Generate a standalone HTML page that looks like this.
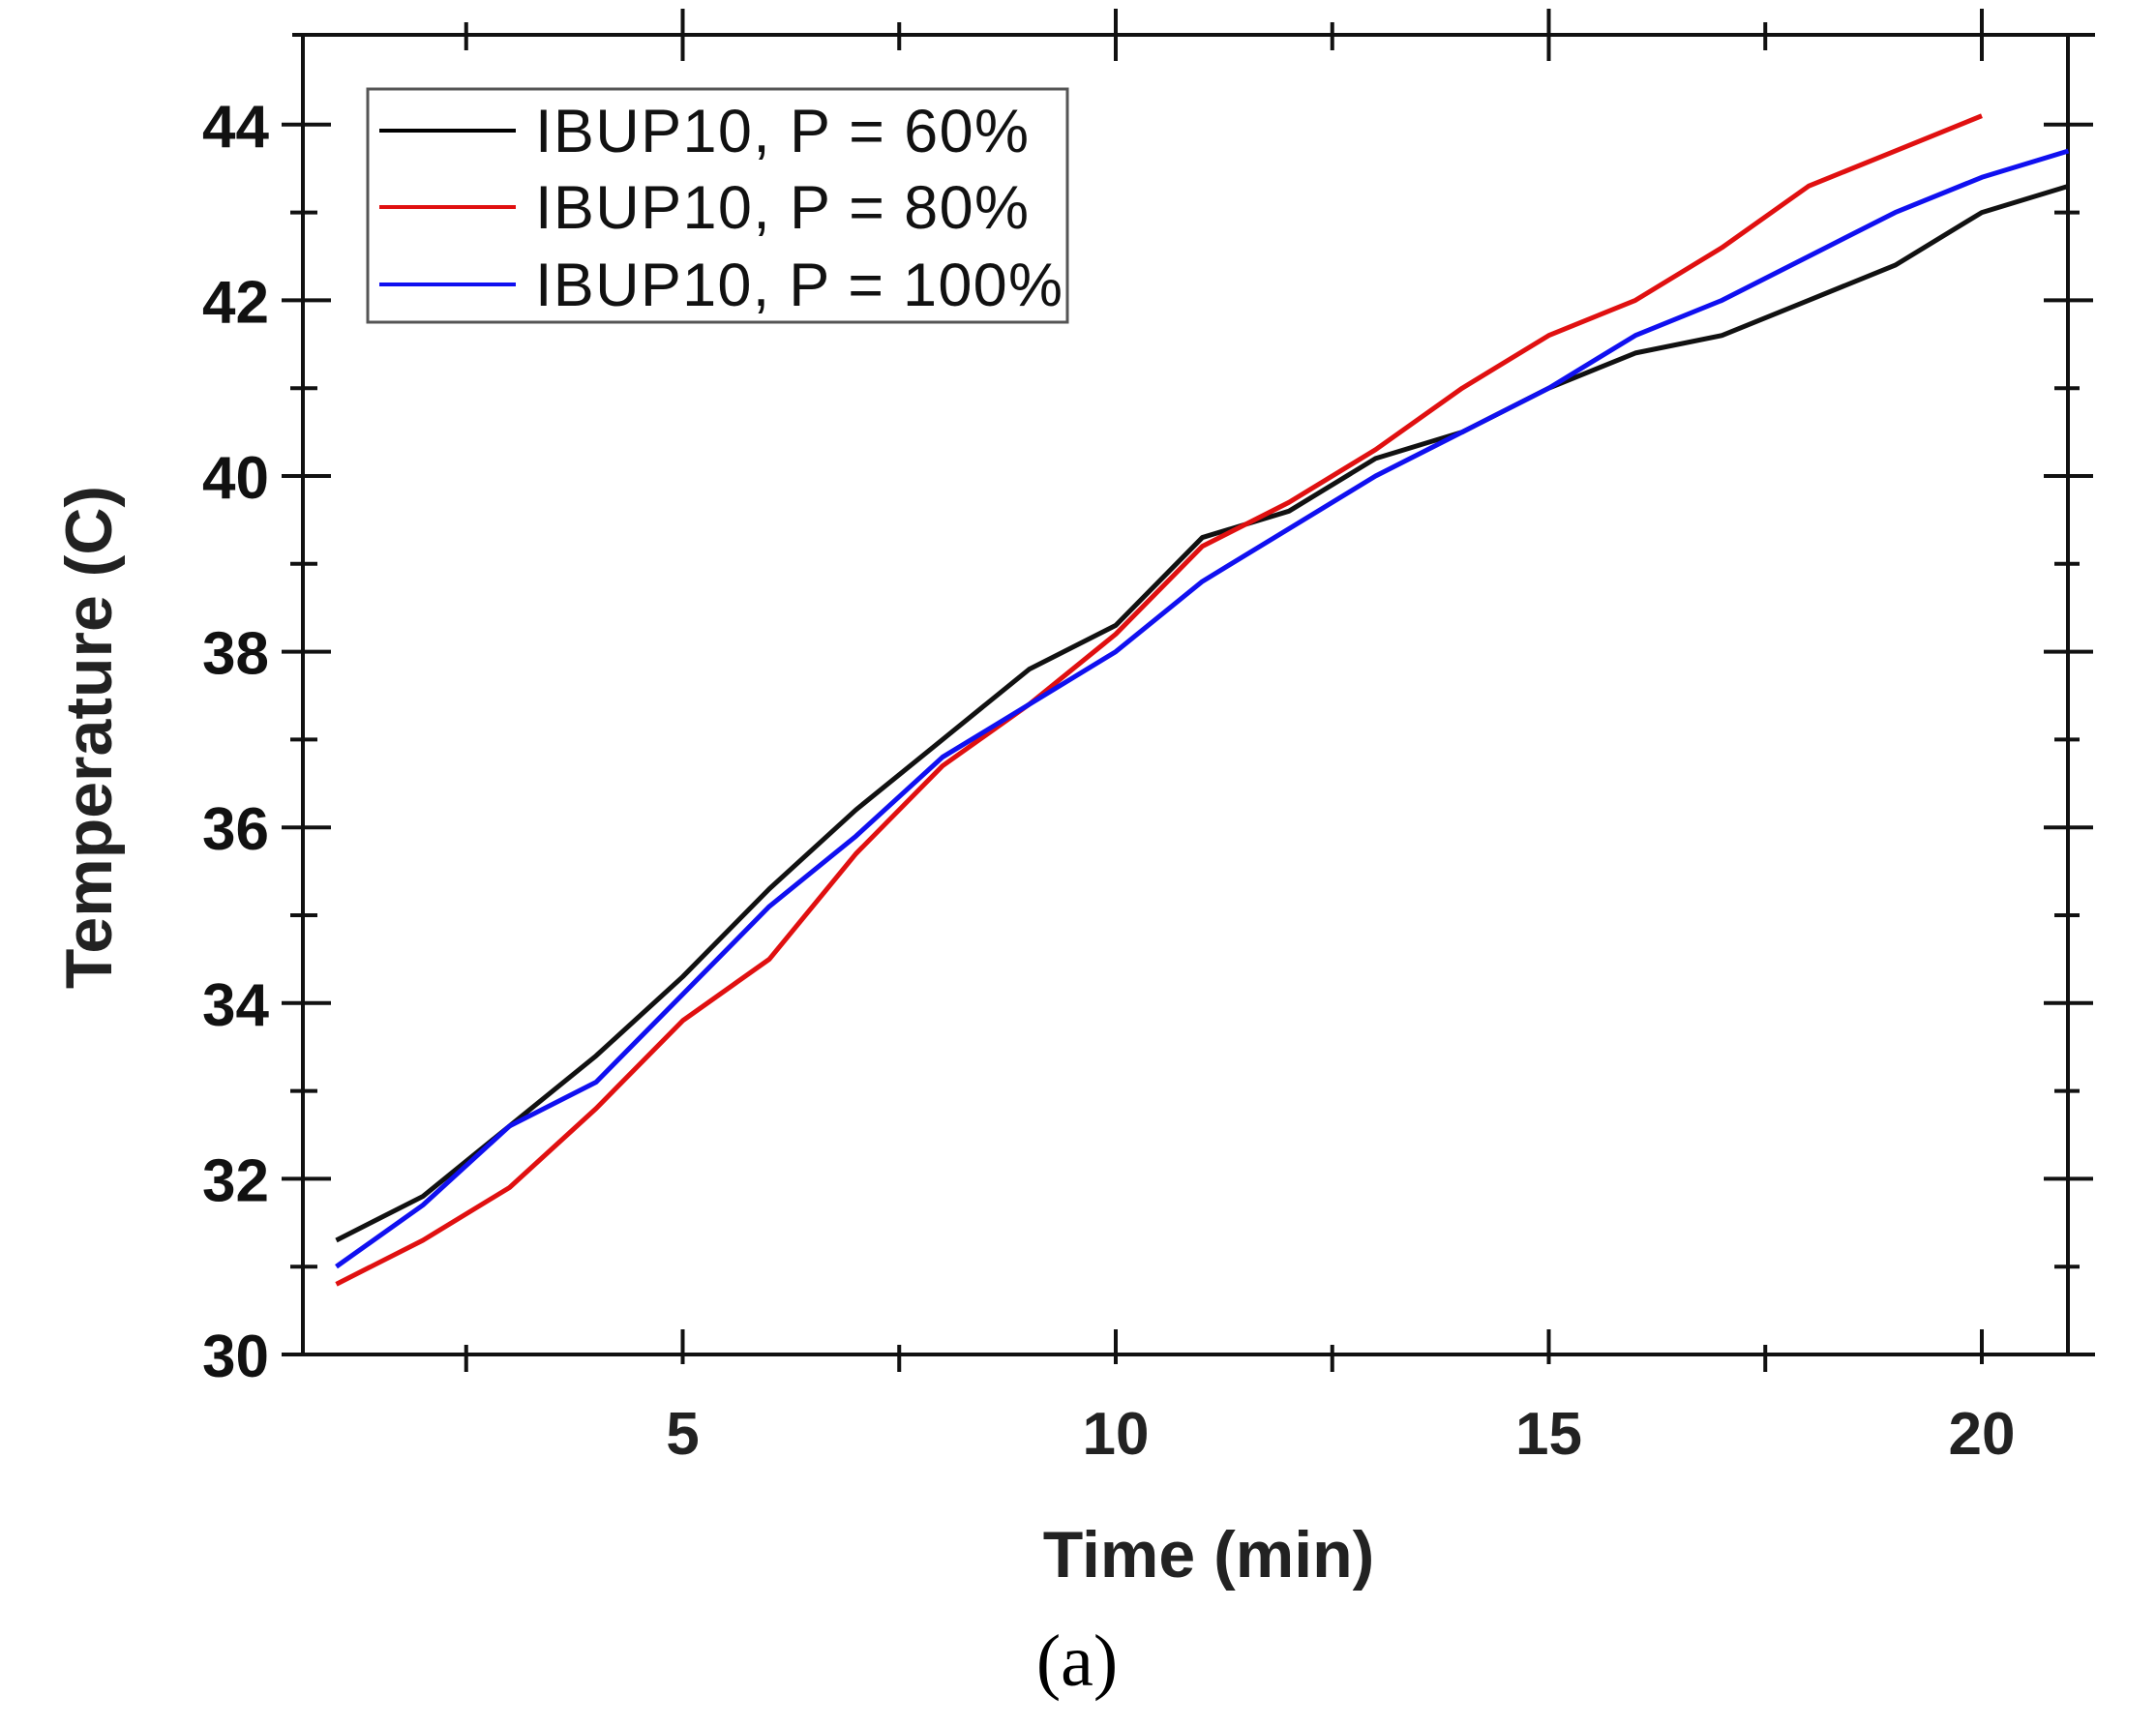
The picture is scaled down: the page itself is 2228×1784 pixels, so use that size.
<!DOCTYPE html>
<html><head><meta charset="utf-8"><style>
html,body{margin:0;padding:0;background:#fff}
svg{display:block}
text{font-family:"Liberation Sans",sans-serif}
</style></head><body>
<svg id="chart" width="2228" height="1784" viewBox="0 0 2228 1784" xmlns="http://www.w3.org/2000/svg">
<g id="axes"></g>
<g id="series"></g>
<g id="legend">
  <rect x="380" y="92" width="723" height="241" fill="#fff" stroke="#555" stroke-width="3"/>
  <line x1="392" y1="135" x2="533" y2="135" stroke="#000" stroke-width="4"/>
  <text x="553" y="157" font-size="63" fill="#111" textLength="510">IBUP10, P = 60%</text>
  <line x1="392" y1="214" x2="533" y2="214" stroke="#e01010" stroke-width="4"/>
  <text x="553" y="236" font-size="63" fill="#111" textLength="510">IBUP10, P = 80%</text>
  <line x1="392" y1="294" x2="533" y2="294" stroke="#1010f0" stroke-width="4"/>
  <text x="553" y="316" font-size="63" fill="#111" textLength="545">IBUP10, P = 100%</text>
</g>
<text x="1249" y="1630" font-size="68" font-weight="bold" text-anchor="middle" fill="#222">Time (min)</text>
<text transform="translate(115,762) rotate(-90)" font-size="68" font-weight="bold" text-anchor="middle" fill="#222">Temperature (C)</text>
<text x="1113" y="1742" font-size="76" text-anchor="middle" fill="#000" style="font-family:'Liberation Serif',serif">(a)</text>
</svg>
<script>
const times = [1,2,3,4,5,6,7,8,9,10,11,12,13,14,15,16,17,18,19,20,21];
const p60 = [31.3,31.8,32.6,33.4,34.3,35.3,36.2,37.0,37.8,38.3,39.3,39.6,40.2,40.5,41.0,41.4,41.6,42.0,42.4,43.0,43.3];
const p80 = [30.8,31.3,31.9,32.8,33.8,34.5,35.7,36.7,37.4,38.2,39.2,39.7,40.3,41.0,41.6,42.0,42.6,43.3,43.7,44.1];
const p100 = [31.0,31.7,32.6,33.1,34.1,35.1,35.9,36.8,37.4,38.0,38.8,39.4,40.0,40.5,41.0,41.6,42.0,42.5,43.0,43.4,43.7];
const xTickLabels = [5,10,15,20];
const xMinorTicks = [2.5,7.5,12.5,17.5];
const yTickLabels = [30,32,34,36,38,40,42,44];
const yMinorTicks = [31,33,35,37,39,41,43];

const NS = "http://www.w3.org/2000/svg";
const X = v => 1153 + (v - 10) * 89.5;
const Y = v => 1400 - (v - 30) * 90.8;
const L = 313, R = 2137, T = 36, B = 1400;
const axes = document.getElementById('axes');
function mk(tag, attrs, parent){ const e = document.createElementNS(NS, tag); for (const k in attrs) e.setAttribute(k, attrs[k]); parent.appendChild(e); return e; }
const st = {stroke:'#111','stroke-width':4};
let e;
e = mk('line', Object.assign({x1:302,y1:B,x2:2165,y2:B}, st), axes);
 
e = mk('line', Object.assign({x1:302,y1:T,x2:2165,y2:T}, st), axes);
 
e = mk('line', Object.assign({x1:L,y1:T,x2:L,y2:B}, st), axes);
 
e = mk('line', Object.assign({x1:R,y1:T,x2:R,y2:B}, st), axes);
 
xTickLabels.forEach(v => {
  const x = X(v);
  let t = mk('line', Object.assign({x1:x,y1:1374,x2:x,y2:1410}, st), axes);
   
  t = mk('line', Object.assign({x1:x,y1:9,x2:x,y2:63}, st), axes);
   
  const lb = mk('text', {x:x, y:1503, 'font-size':62, 'font-weight':'bold', 'text-anchor':'middle', fill:'#222'}, axes);
  lb.textContent = v;
   
});
xMinorTicks.forEach(v => {
  const x = X(v);
  let t = mk('line', Object.assign({x1:x,y1:1390,x2:x,y2:1418}, st), axes);
   
  t = mk('line', Object.assign({x1:x,y1:23,x2:x,y2:52}, st), axes);
   
});
yTickLabels.forEach(v => {
  const y = Y(v);
  let t = mk('line', Object.assign({x1:291,y1:y,x2:342,y2:y}, st), axes);
   
  t = mk('line', Object.assign({x1:R-25,y1:y,x2:R+26,y2:y}, st), axes);
   
  const lb = mk('text', {x:278, y:y+23, 'font-size':62, 'font-weight':'bold', 'text-anchor':'end', fill:'#111'}, axes);
  lb.textContent = v;
   
});
yMinorTicks.forEach(v => {
  const y = Y(v);
  let t = mk('line', Object.assign({x1:300,y1:y,x2:328,y2:y}, st), axes);
   
  t = mk('line', Object.assign({x1:R-14,y1:y,x2:R+12,y2:y}, st), axes);
   
});
const series = document.getElementById('series');
function draw(vals, color, name){
  const pts = vals.map((v,i) => X(times[i]) + ',' + Y(v)).join(' ');
  const p = mk('polyline', {points:pts, fill:'none', stroke:color, 'stroke-width':5, 'stroke-linejoin':'round'}, series);
  
  
}
draw(p60, '#111', 'line-p60');
draw(p80, '#e01010', 'line-p80');
draw(p100, '#1010f0', 'line-p100');
</script>
</body></html>
